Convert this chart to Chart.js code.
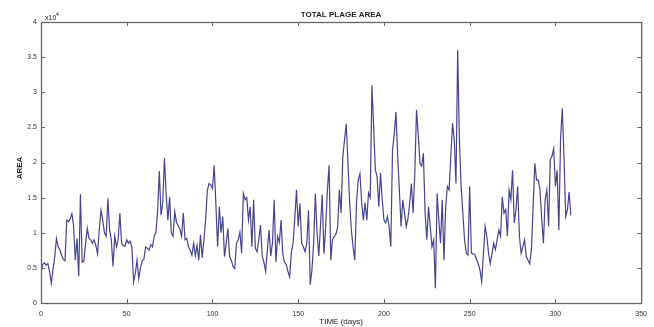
<!DOCTYPE html>
<html>
<head>
<meta charset="utf-8">
<script src="https://cdn.jsdelivr.net/npm/chart.js@4/dist/chart.umd.min.js"></script>
<style>
  html, body { margin: 0; padding: 0; background: #fff; }
  canvas { display: block; }
</style>
</head>
<body>
<canvas id="plage" width="654" height="327"></canvas>
<script>
// Total plage area per day, in units of 10^4
const plageArea = [
  0.42, 0.55, 0.57, 0.54, 0.56, 0.45, 0.28, 0.48, 0.65, 0.92,
  0.80, 0.76, 0.68, 0.62, 0.60, 1.18, 1.16, 1.20, 1.27, 1.10,
  0.61, 0.92, 0.38, 1.55, 0.58, 0.60, 0.85, 1.06, 0.92, 0.90,
  0.85, 0.90, 0.82, 0.70, 1.05, 1.32, 1.18, 1.00, 0.95, 1.49,
  1.04, 0.90, 0.52, 0.95, 0.80, 0.90, 1.28, 0.85, 0.82, 0.81,
  0.90, 0.85, 0.88, 0.80, 0.30, 0.42, 0.61, 0.35, 0.50, 0.60,
  0.62, 0.80, 0.78, 0.75, 0.83, 0.80, 0.95, 1.00, 1.30, 1.88,
  1.25, 1.43, 2.06, 1.55, 1.18, 1.51, 1.00, 0.95, 1.30, 1.15,
  1.10, 1.05, 0.95, 1.28, 0.90, 0.92, 0.80, 0.75, 0.68, 0.85,
  0.67, 0.82, 0.61, 0.97, 0.64, 0.90, 1.18, 1.60, 1.70, 1.68,
  1.63, 1.96, 1.40, 0.80, 1.37, 1.00, 1.23, 0.66, 0.85, 1.06,
  0.66, 0.61, 0.52, 0.49, 0.85, 0.90, 1.01, 0.71, 1.56, 1.47,
  1.50, 1.18, 1.37, 0.80, 1.47, 0.78, 0.73, 0.90, 1.11, 0.67,
  0.58, 0.45, 0.75, 1.04, 0.67, 0.86, 1.47, 0.58, 0.95, 0.86,
  1.18, 0.70, 0.58, 0.55, 0.45, 0.37, 0.72, 0.85, 1.20, 1.61,
  1.09, 1.42, 0.85, 0.80, 0.73, 0.85, 1.32, 0.26, 0.47, 0.85,
  1.56, 1.00, 0.67, 1.10, 1.54, 0.70, 1.08, 1.60, 1.96, 0.61,
  0.90, 0.95, 0.98, 1.08, 1.61, 1.28, 2.08, 2.32, 2.55, 2.00,
  1.43, 1.04, 0.80, 0.61, 1.43, 1.75, 1.84, 1.43, 1.18, 1.43,
  1.18, 1.57, 1.50, 3.10, 2.50, 1.89, 1.80, 1.37, 1.85, 1.47,
  1.18, 1.14, 1.23, 1.09, 0.80, 2.18, 2.40, 2.72, 2.10, 1.60,
  1.09, 1.47, 1.28, 1.09, 1.20, 1.42, 1.70, 1.28, 1.85, 2.75,
  2.40, 1.99, 1.95, 2.13, 1.28, 0.90, 1.37, 1.09, 0.80, 0.90,
  0.21, 1.56, 1.18, 0.85, 1.47, 0.61, 1.37, 1.66, 1.61, 2.09,
  2.56, 2.32, 1.70, 3.60, 2.32, 1.66, 1.28, 0.90, 0.71, 0.68,
  1.66, 0.71, 0.70, 0.69, 0.62, 0.56, 0.47, 0.30, 0.70, 1.09,
  0.95, 0.71, 0.56, 0.70, 0.85, 0.76, 0.90, 1.04, 0.95, 1.51,
  1.28, 1.33, 0.95, 1.61, 1.47, 1.89, 1.14, 1.33, 1.66, 0.95,
  0.71, 0.80, 0.90, 0.66, 0.61, 0.56, 0.76, 1.37, 1.99, 1.75,
  1.75, 1.61, 1.20, 0.85, 1.47, 1.61, 1.09, 2.04, 2.09, 2.20,
  1.66, 1.89, 1.04, 2.33, 2.77, 2.09, 1.23, 1.33, 1.58, 1.25
];
const days = plageArea.map((_, i) => i);

const xTicks = [0, 50, 100, 150, 200, 250, 300, 350];
const yTicks = [0, 0.5, 1, 1.5, 2, 2.5, 3, 3.5, 4];

const TITLE = 'TOTAL PLAGE AREA';
const X_LABEL = 'TIME (days)';
const Y_LABEL = 'AREA';

// matlab-ish box: frame + inward ticks on all four sides + texts
const boxPlugin = {
  id: 'box',
  afterDraw(chart) {
    const { ctx, chartArea: a, scales: { x, y } } = chart;
    const tl = 4;
    ctx.save();
    ctx.strokeStyle = '#666';
    ctx.lineWidth = 1.3;
    ctx.strokeRect(a.left + 0.5, a.top + 0.5, a.right - a.left, a.bottom - a.top);
    ctx.lineWidth = 1;
    ctx.beginPath();
    xTicks.forEach(v => {
      const px = Math.round(x.getPixelForValue(v)) + 0.5;
      ctx.moveTo(px, a.bottom); ctx.lineTo(px, a.bottom - tl);
      ctx.moveTo(px, a.top);    ctx.lineTo(px, a.top + tl);
    });
    yTicks.forEach(v => {
      const py = Math.round(y.getPixelForValue(v)) + 0.5;
      ctx.moveTo(a.left, py);  ctx.lineTo(a.left + tl, py);
      ctx.moveTo(a.right, py); ctx.lineTo(a.right - tl, py);
    });
    ctx.stroke();

    ctx.fillStyle = '#222';
    ctx.textAlign = 'center';
    ctx.textBaseline = 'middle';
    ctx.font = 'bold 8px "Liberation Sans", Arial, sans-serif';
    ctx.fillText(TITLE, (a.left + a.right) / 2, 15);

    ctx.font = '8px "Liberation Sans", Arial, sans-serif';
    ctx.fillText(X_LABEL, (a.left + a.right) / 2, 322);

    ctx.save();
    ctx.translate(20, 168);
    ctx.rotate(-Math.PI / 2);
    ctx.font = 'bold 8px "Liberation Sans", Arial, sans-serif';
    ctx.fillText(Y_LABEL, 0, 0);
    ctx.restore();

    // exponent marker
    ctx.textAlign = 'left';
    ctx.font = '7px "Liberation Sans", Arial, sans-serif';
    ctx.fillText('x10', 45, 18);
    ctx.font = '5px "Liberation Sans", Arial, sans-serif';
    ctx.fillText('4', 56, 15);
    ctx.restore();
  }
};

const tickFont = { family: '"Liberation Sans", Arial, sans-serif', size: 7 };

new Chart(document.getElementById('plage'), {
  type: 'line',
  data: {
    datasets: [{
      data: days.map((d, i) => ({ x: d, y: plageArea[i] })),
      borderColor: '#45458f',
      borderWidth: 1.2,
      pointRadius: 0,
      tension: 0,
      fill: false
    }]
  },
  options: {
    responsive: false,
    animation: false,
    layout: { padding: { top: 22, right: 12, left: 0, bottom: 0 } },
    plugins: { legend: { display: false }, tooltip: { enabled: false } },
    scales: {
      x: {
        type: 'linear', min: 0, max: 350,
        afterBuildTicks: s => { s.ticks = xTicks.map(v => ({ value: v })); },
        afterFit: s => { s.height = 24; },
        grid: { display: false, drawTicks: false },
        border: { display: false },
        ticks: { font: tickFont, color: '#333', padding: 7, maxRotation: 0, callback: v => String(v) }
      },
      y: {
        type: 'linear', min: 0, max: 4,
        afterBuildTicks: s => { s.ticks = yTicks.map(v => ({ value: v })); },
        afterFit: s => { s.width = 41; },
        grid: { display: false, drawTicks: false },
        border: { display: false },
        ticks: { font: tickFont, color: '#333', padding: 4, callback: v => String(v) }
      }
    }
  },
  plugins: [boxPlugin]
});
</script>
</body>
</html>
